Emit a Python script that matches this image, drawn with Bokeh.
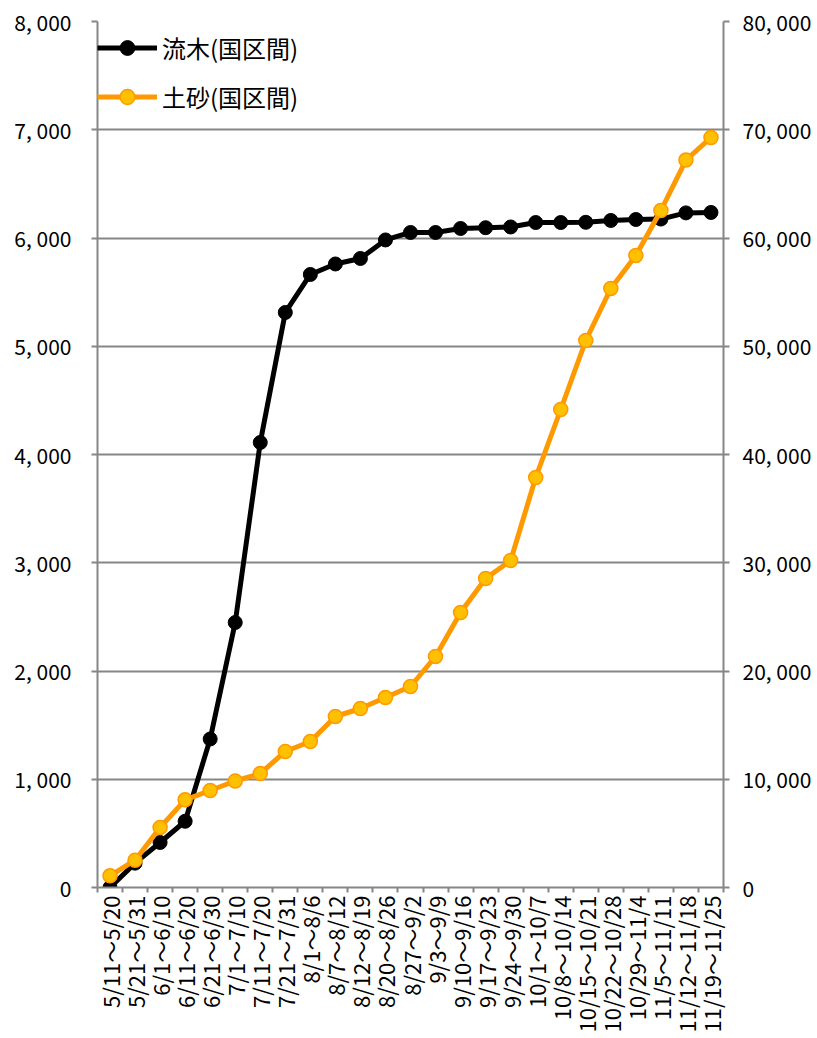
import math
from bokeh.plotting import figure
from bokeh.models import Range1d, LinearAxis, FixedTicker, Legend, LegendItem
from bokeh.embed import file_html
from bokeh.resources import INLINE

periods = ["5/11～5/20", "5/21～5/31", "6/1～6/10", "6/11～6/20", "6/21～6/30",
           "7/1～7/10", "7/11～7/20", "7/21～7/31", "8/1～8/6", "8/7～8/12",
           "8/12～8/19", "8/20～8/26", "8/27～9/2", "9/3～9/9", "9/10～9/16",
           "9/17～9/23", "9/24～9/30", "10/1～10/7", "10/8～10/14", "10/15～10/21",
           "10/22～10/28", "10/29～11/4", "11/5～11/11", "11/12～11/18", "11/19～11/25"]

wood = [0, 225, 416, 612, 1372, 2448, 4111, 5312, 5663, 5760,
        5811, 5982, 6051, 6051, 6088, 6095, 6102, 6143, 6143, 6145,
        6162, 6171, 6175, 6232, 6236]

sand = [1080, 2520, 5543, 8100, 8961, 9840, 10531, 12564, 13487, 15797,
        16536, 17552, 18568, 21339, 25404, 28545, 30208, 37875, 44157, 50531,
        55335, 58383, 62540, 67200, 69284]

left_ticks = [0, 1000, 2000, 3000, 4000, 5000, 6000, 7000, 8000]
left_labels = ["0", "1, 000", "2, 000", "3, 000", "4, 000", "5, 000", "6, 000", "7, 000", "8, 000"]
right_ticks = [0, 10000, 20000, 30000, 40000, 50000, 60000, 70000, 80000]
right_labels = ["0", "10, 000", "20, 000", "30, 000", "40, 000", "50, 000", "60, 000", "70, 000", "80, 000"]

series_names = ["流木(国区間)", "土砂(国区間)"]

FONT = "Noto Sans CJK JP"
GRAY = "#868686"

n = len(periods)
xs = list(range(1, n + 1))
bounds = [i + 0.5 for i in range(0, n + 1)]

p = figure(frame_width=626, frame_height=866,
           x_range=Range1d(0.5, n + 0.5), y_range=Range1d(0, 8000),
           output_backend="svg", toolbar_location=None,
           min_border_left=97, min_border_right=88, min_border_top=21, min_border_bottom=148)
p.outline_line_color = None
p.background_fill_color = "white"
p.border_fill_color = "white"

p.extra_y_ranges = {"right": Range1d(0, 80000)}

# grid
p.xgrid.visible = False
p.ygrid.grid_line_color = GRAY
p.ygrid.grid_line_width = 2

# x axis
xa = p.xaxis[0]
xa.ticker = FixedTicker(ticks=xs, minor_ticks=bounds)
xa.major_label_overrides = {x: lab for x, lab in zip(xs, periods)}
xa.major_label_orientation = math.pi / 2
xa.major_tick_out = 0
xa.major_tick_in = 0
xa.minor_tick_out = 5
xa.minor_tick_in = 0
xa.minor_tick_line_color = GRAY
xa.minor_tick_line_width = 2
xa.axis_line_color = GRAY
xa.axis_line_width = 2
xa.major_label_text_font = FONT
xa.major_label_text_font_size = "22px"
xa.major_label_text_color = "black"
xa.major_label_standoff = 3

# left axis
ya = p.yaxis[0]
ya.ticker = FixedTicker(ticks=left_ticks)
ya.major_label_overrides = {t: l for t, l in zip(left_ticks, left_labels)}
ya.major_tick_out = 6
ya.major_tick_in = 0
ya.minor_tick_out = 0
ya.minor_tick_in = 0
ya.major_tick_line_color = GRAY
ya.major_tick_line_width = 2
ya.axis_line_color = GRAY
ya.axis_line_width = 2
ya.major_label_text_font = FONT
ya.major_label_text_font_size = "21px"
ya.major_label_text_color = "black"
ya.major_label_standoff = 20

# right axis
ra = LinearAxis(y_range_name="right", ticker=FixedTicker(ticks=right_ticks))
ra.major_label_overrides = {t: l for t, l in zip(right_ticks, right_labels)}
ra.major_tick_out = 6
ra.major_tick_in = 0
ra.minor_tick_out = 0
ra.minor_tick_in = 0
ra.major_tick_line_color = GRAY
ra.major_tick_line_width = 2
ra.axis_line_color = GRAY
ra.axis_line_width = 2
ra.major_label_text_font = FONT
ra.major_label_text_font_size = "21px"
ra.major_label_text_color = "black"
ra.major_label_standoff = 13
p.add_layout(ra, "right")

# series
bl = p.line(xs, wood, line_color="black", line_width=5)
bs = p.scatter(xs, wood, size=14, fill_color="black", line_color="black")
ol = p.line(xs, sand, y_range_name="right", line_color="#FF9900", line_width=5)
os_ = p.scatter(xs, sand, y_range_name="right", size=14, fill_color="#FFC000",
                line_color="#FF9900", line_width=1.5)

legend = Legend(items=[LegendItem(label=series_names[0], renderers=[bl, bs]),
                       LegendItem(label=series_names[1], renderers=[ol, os_])],
                location=(0, 772))
legend.border_line_color = None
legend.background_fill_alpha = 0
legend.padding = 3
legend.margin = 0
legend.spacing = 12
legend.glyph_width = 60
legend.glyph_height = 37
legend.label_height = 37
legend.label_standoff = 5
legend.label_text_font = FONT
legend.label_text_font_size = "24px"
legend.label_text_color = "black"
p.add_layout(legend, "center")

open("out.html", "w").write(file_html(p, INLINE))
